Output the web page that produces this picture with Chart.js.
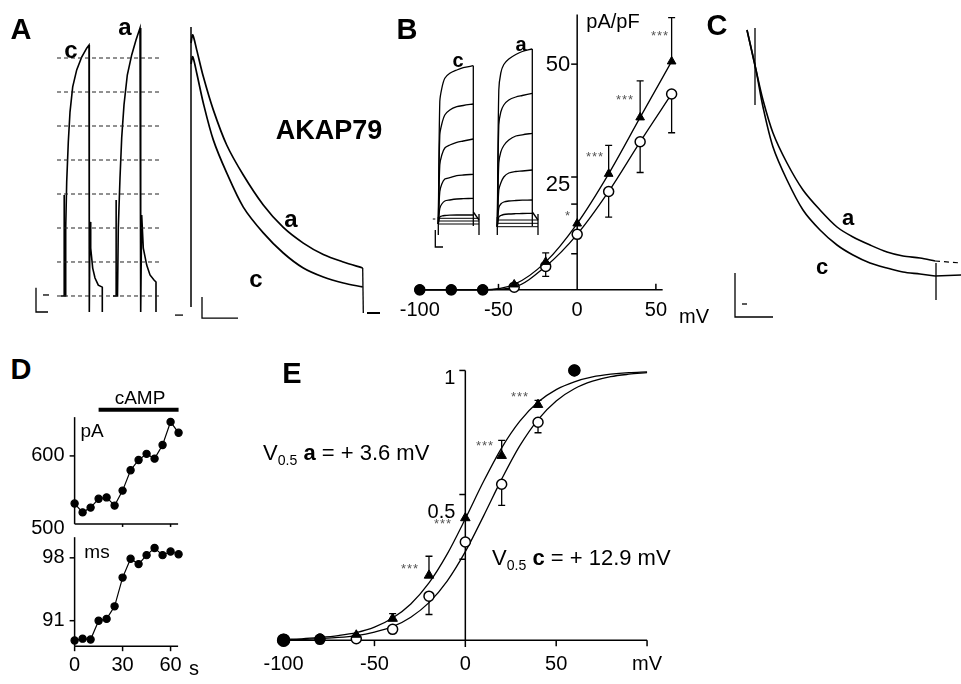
<!DOCTYPE html>
<html>
<head>
<meta charset="utf-8">
<script src="https://cdn.jsdelivr.net/npm/chart.js@4.4.1/dist/chart.umd.min.js"></script>
<style>
body { margin: 0; background: #fff; }
#fig { position: relative; width: 961px; height: 684px; overflow: hidden; background: #fff;
       font-family: "Liberation Sans", Arial, Helvetica, sans-serif; color: #000; }
#fig canvas { position: absolute; }
.t { position: absolute; transform: translate(-50%, -50%); white-space: nowrap; line-height: 1; }
.l { transform: translate(0, -50%); }
.b { font-weight: bold; }
.ast { color: #555; letter-spacing: 1px; }
sub { font-size: 64%; vertical-align: -5px; }
</style>
</head>
<body>
<div id="fig"></div>
<script>
// ---- A: current traces, c = control, a = AKAP79 (time ms, current in step units)
var aLevels = [0, 1, 2, 3, 4, 5, 6, 7];
var a1cT = [6, 9, 9, 9.4, 10.4, 10.7, 11.7, 13.3, 15, 17.7, 21.7, 26.7, 31.7, 34, 34.3, 35, 35.7, 37.7, 40, 43.3, 47.3, 47.3];
var a1cI = [0, 0, 2.97, 0, 0, 2.0, 3.35, 4.53, 5.41, 6.15, 6.65, 7.03, 7.29, 7.38, -0.47, 2.18, 1.41, 0.82, 0.53, 0.32, 0.26, -0.47];
var a1aT = [58, 61, 61, 61.3, 62.5, 63.3, 65, 66.7, 69, 72.3, 76.7, 81, 85, 85.7, 86.7, 88.3, 91.7, 95, 99, 101, 101];
var a1aI = [0, 0, 2.82, 0, 0, 2.0, 3.47, 4.65, 5.62, 6.5, 7.09, 7.53, 7.88, -0.47, 2.38, 1.41, 0.91, 0.62, 0.47, 0.41, -0.47];
var a2T = [1.7, 5.7, 12.3, 22.3, 35.7, 52.3, 72.3, 92.3, 112.3, 132.3, 152.3, 171.7];
var a2aI = [9.27, 8.77, 7.88, 6.77, 5.6, 4.6, 3.6, 2.85, 2.33, 1.95, 1.7, 1.5];
var a2cI = [8.54, 8.0, 7.0, 5.77, 4.67, 3.53, 2.67, 2.0, 1.5, 1.2, 1.0, 0.87];

// ---- B: current density (pA/pF) vs voltage
var bV = [-100, -80, -60, -40, -20, 0, 20, 40, 60];
var bA = [0, 0, 0, 1.2, 6.2, 14.7, 25.7, 38.2, 50.6];
var bC = [0, 0, 0, 0.6, 5.2, 12.3, 21.8, 32.8, 43.4];
var bErrA = [null, null, null, null, 8.2, null, 32, 46.3, 60.3];
var bErrC = [null, null, null, null, 3.0, null, 16.1, 26, 34.8];
// B inset: families of current steps
var insStep = [1.5, 3.5, 6.5, 11.5, 18.5, 25, 35];
var insC = [[12.23, 13.57, 14.57, 15.07, 15.4, 15.63, 15.83],
            [8.9, 10.0, 10.9, 11.4, 11.73, 11.85, 12.0],
            [5.9, 6.9, 7.6, 7.9, 8.17, 8.3, 8.5],
            [3.23, 4.0, 4.5, 4.63, 4.83, 4.9, 4.97],
            [1.57, 2.0, 2.3, 2.4, 2.5, 2.53, 2.57],
            [0.7, 0.8, 0.85, 0.88, 0.9, 0.9, 0.9]];
var insA = [[13.4, 15.1, 15.95, 16.5, 16.95, 17.25, 17.5],
            [9.9, 11.2, 11.9, 12.4, 12.7, 12.85, 13.07],
            [6.1, 7.2, 7.85, 8.4, 8.8, 8.92, 9.07],
            [3.4, 4.1, 4.7, 5.1, 5.25, 5.3, 5.4],
            [1.6, 2.0, 2.2, 2.3, 2.35, 2.38, 2.4],
            [0.7, 0.85, 0.95, 1.0, 1.03, 1.05, 1.07]];
var insBaseC = [0.57, 0.3, 0];
var insBaseA = [0.4, 0.07, -0.27];

// ---- C: normalised decays
var cT = [-9, 0, 7, 17, 31, 47, 64, 81, 97, 114, 131, 147, 164, 179];
var cA = [24.5, 20.5, 17.5, 14.2, 11.2, 8.5, 6.5, 4.8, 3.8, 3.0, 2.3, 1.9, 1.7, 1.4];
var cC = [24.5, 20.5, 16.8, 12.8, 9.5, 6.5, 4.5, 3.0, 2.0, 1.2, 0.7, 0.3, 0.1, -0.1];

// ---- D: time course with cAMP
var dT = [0, 5, 10, 15, 20, 25, 30, 35, 40, 45, 50, 55, 60, 65];
var dPA = [530, 517, 524, 537, 539, 527, 549, 579, 594, 603, 596, 616, 650, 634];
var dMs = [88.8, 89.0, 88.9, 91.0, 91.2, 92.6, 95.8, 97.9, 97.3, 98.3, 99.1, 98.3, 98.7, 98.4];
var campT = [15, 65];

// ---- E: activation curves
var eV = [-100, -80, -60, -40, -20, 0, 20, 40, 60];
var eA = [0, 0.005, 0.02, 0.08, 0.24, 0.453, 0.684, 0.873, 1.0];
var eC = [0, 0.003, 0.005, 0.04, 0.163, 0.364, 0.578, 0.808, 1.0];
var eErrA = [null, null, null, 0.098, 0.311, null, 0.741, 0.889, null];
var eErrC = [null, null, null, null, 0.095, null, 0.5, 0.769, null];
var fitV = [-100, -90, -80, -70, -60, -50, -40, -30, -20, -10, 0, 10, 20, 30, 40, 50, 60, 70, 80, 90, 100];
var fitA = [0.003, 0.005, 0.010, 0.017, 0.028, 0.048, 0.082, 0.134, 0.212, 0.319, 0.450, 0.588, 0.713, 0.812, 0.883, 0.929, 0.958, 0.976, 0.986, 0.992, 0.995];
var fitC = [0.002, 0.003, 0.006, 0.010, 0.017, 0.030, 0.050, 0.085, 0.139, 0.219, 0.328, 0.460, 0.597, 0.721, 0.818, 0.887, 0.932, 0.960, 0.977, 0.986, 0.992];

var fig = document.getElementById('fig');
var F = '"Liberation Sans", Arial, Helvetica, sans-serif';

function xy(xs, ys) {
  return xs.map(function (x, i) { return { x: x, y: ys[i] }; });
}

function line(xs, ys, opt) {
  return Object.assign({
    data: xy(xs, ys), showLine: true, borderColor: '#000', borderWidth: 1.5,
    pointRadius: 0, tension: 0, clip: false
  }, opt || {});
}

// axes, ticks, tick labels and error bars, all placed through the chart's scales
function axesPlugin(o) {
  return {
    id: 'figAxes',
    beforeDatasetsDraw: function (chart) {
      var ctx = chart.ctx, sx = chart.scales.x, sy = chart.scales.y;
      var px = function (v) { return sx.getPixelForValue(v); };
      var py = function (v) { return sy.getPixelForValue(v); };
      ctx.save();
      ctx.strokeStyle = '#000';
      ctx.lineWidth = 1.5;
      (o.lines || []).forEach(function (l) {
        ctx.beginPath();
        if (l.axis === 'x') { ctx.moveTo(px(l.from), py(l.at)); ctx.lineTo(px(l.to), py(l.at)); }
        else { ctx.moveTo(px(l.at), py(l.from)); ctx.lineTo(px(l.at), py(l.to)); }
        ctx.stroke();
      });
      (o.ticks || []).forEach(function (t) {
        t.values.forEach(function (v) {
          ctx.beginPath();
          if (t.axis === 'x') { ctx.moveTo(px(v), py(t.at)); ctx.lineTo(px(v), py(t.at) + t.len); }
          else { ctx.moveTo(px(t.at), py(v)); ctx.lineTo(px(t.at) + t.len, py(v)); }
          ctx.stroke();
        });
      });
      ctx.lineWidth = 1.3;
      (o.errors || []).forEach(function (e) {
        var d = chart.data.datasets[e.ds].data;
        e.ends.forEach(function (end, i) {
          if (end === null) return;
          var x = px(d[i].x), y0 = py(d[i].y), y1 = py(end);
          ctx.beginPath();
          ctx.moveTo(x, y0); ctx.lineTo(x, y1);
          ctx.moveTo(x - 3.5, y1); ctx.lineTo(x + 3.5, y1);
          ctx.stroke();
        });
      });
      ctx.restore();
    },
    afterDatasetsDraw: function (chart) {
      var ctx = chart.ctx, sx = chart.scales.x, sy = chart.scales.y;
      ctx.save();
      ctx.fillStyle = '#000';
      ctx.textBaseline = 'middle';
      (o.labels || []).forEach(function (t) {
        ctx.font = t.font;
        ctx.textAlign = t.align || 'center';
        t.values.forEach(function (v, i) {
          var dx = Array.isArray(t.dx) ? t.dx[i] : (t.dx || 0);
          var dy = Array.isArray(t.dy) ? t.dy[i] : (t.dy || 0);
          if (t.axis === 'x') ctx.fillText(t.text[i], sx.getPixelForValue(v) + dx, sy.getPixelForValue(t.at) + dy);
          else ctx.fillText(t.text[i], sx.getPixelForValue(t.at) + dx, sy.getPixelForValue(v) + dy);
        });
      });
      ctx.restore();
    }
  };
}

function panel(box, xr, yr, datasets, cfg) {
  var c = document.createElement('canvas');
  c.width = box[2]; c.height = box[3];
  c.style.left = box[0] + 'px'; c.style.top = box[1] + 'px';
  fig.appendChild(c);
  return new Chart(c, {
    type: 'scatter',
    data: { datasets: datasets },
    options: {
      responsive: false, animation: false, events: [],
      layout: { padding: 0 },
      scales: {
        x: { type: 'linear', display: false, min: xr[0], max: xr[1] },
        y: { type: 'linear', display: false, min: yr[0], max: yr[1] }
      },
      plugins: { legend: { display: false }, tooltip: { enabled: false } }
    },
    plugins: [axesPlugin(cfg || {})]
  });
}

// ---------- panel A, left: spikes with dotted reference levels
var a1 = aLevels.map(function (lv) {
  return line([2, 105], [lv, lv], { borderWidth: 1, borderDash: [4, 3], borderColor: '#222' });
});
a1.push(line(a1cT, a1cI, { borderWidth: 1.6 }));
a1.push(line(a1aT, a1aI, { borderWidth: 1.6 }));
a1.push(line([-19, -19, -7], [0.24, -0.47, -0.47], { borderWidth: 1.3 }));
a1.push(line([-12, -6], [0.03, 0.03], { borderWidth: 1.3 }));
panel([30, 15, 135, 305], [-25, 110], [-0.706, 8.265], a1);

// ---------- panel A, right: decays
var a2 = [
  line([0, 0], [9.53, 0.2], { borderWidth: 1.5 }),
  line([0].concat(a2T), [9.0].concat(a2aI), { tension: 0.3, borderWidth: 1.7 }),
  line([0].concat(a2T), [8.3].concat(a2cI), { tension: 0.3, borderWidth: 1.7 }),
  line([171.7, 172.3], [1.5, 0], { borderWidth: 1.3 }),
  line([176, 189], [0, 0], { borderWidth: 2 }),
  line([-16, -8], [-0.07, -0.07], { borderWidth: 1.3 }),
  line([11, 11, 47], [0.53, -0.17, -0.17], { borderWidth: 1.3 })
];
panel([165, 15, 225, 315], [-26, 199], [-0.567, 9.933], a2);

// ---------- panel B, inset traces
var ins = [];
[[0, insC, insBaseC], [59, insA, insBaseA]].forEach(function (f) {
  var on = f[0], fam = f[1], bases = f[2], low = bases[bases.length - 1];
  fam.forEach(function (vals) {
    ins.push(line([on].concat(insStep.map(function (s) { return on + s; })), [low].concat(vals), { borderWidth: 1.3, tension: 0.3 }));
  });
  bases.forEach(function (b) {
    ins.push(line([on, on + 40.7], [b, b], { borderWidth: 1 }));
  });
  ins.push(line([on, on], [-1.1, fam[5][0]], { borderWidth: 1.3 }));
  ins.push(line([on + 35, on + 35], [fam[0][6], -0.2], { borderWidth: 1.3 }));
  ins.push(line([on + 35, on + 40.7], [1.2, 0.4], { borderWidth: 1.3 }));
  ins.push(line([on + 40.7, on + 40.7], [1.0, -1.1], { borderWidth: 1.3 }));
});
ins.push(line([-5.5, -3], [0.5, 0.5], { borderWidth: 1 }));
ins.push(line([-3, -3, 4.7], [-0.6, -2.3, -2.3], { borderWidth: 1.3 }));
panel([420, 35, 125, 220], [-18.3, 106.7], [-3.1, 18.9], ins);

// ---------- panel B, I-V
var bShapeA = ['circle', 'circle', 'circle', 'triangle', 'triangle', 'triangle', 'triangle', 'triangle', 'triangle'];
var bFillC = ['#000', '#000', '#000', '#fff', '#fff', '#fff', '#fff', '#fff', '#fff'];
panel([395, 0, 325, 330], [-111.6, 86.6], [-7.45, 62.77], [
  line(bV, bA, { cubicInterpolationMode: 'monotone', borderWidth: 1.3, pointStyle: bShapeA, pointRadius: 5,
                 pointBackgroundColor: '#000', pointBorderColor: '#000', pointBorderWidth: 1 }),
  line(bV, bC, { cubicInterpolationMode: 'monotone', borderWidth: 1.3, pointStyle: 'circle', pointRadius: 5,
                 pointBackgroundColor: bFillC, pointBorderColor: '#000', pointBorderWidth: 1.5 })
], {
  lines: [{ axis: 'x', at: 0, from: -101, to: 54.3 }, { axis: 'y', at: 0, from: 0, to: 61 }],
  ticks: [{ axis: 'x', at: 0, values: [-50, 50], len: -6 }, { axis: 'y', at: 0, values: [8, 19, 25, 50], len: -6 }],
  errors: [{ ds: 0, ends: bErrA }, { ds: 1, ends: bErrC }],
  labels: [
    { axis: 'x', at: 0, values: [-100, -50, 0, 50], text: ['-100', '-50', '0', '50'], dy: 21, font: '20px ' + F },
    { axis: 'y', at: 0, values: [25, 50], text: ['25', '50'], dx: -7, dy: [8, 1], align: 'right', font: '22px ' + F }
  ]
});

// ---------- panel C
panel([722, 10, 239, 320], [-34, 205], [-5.5, 26.5], [
  line([-1, -1], [24.7, 17], { borderWidth: 1.3 }),
  line(cT, cA, { tension: 0.3, borderWidth: 1.6 }),
  line(cT, cC, { tension: 0.3, borderWidth: 1.6 }),
  line([179, 205], [1.4, 1.2], { borderWidth: 1.2, borderDash: [5, 4] }),
  line([179, 205], [-0.1, 0], { borderWidth: 1.3 }),
  line([180, 180], [1.2, -2.5], { borderWidth: 1.3 }),
  line([-21, -21, 17], [0.2, -4.2, -4.2], { borderWidth: 1.3 }),
  line([-14, -9], [-2.9, -2.9], { borderWidth: 1.3 })
]);

// ---------- panel D
var dot = { borderWidth: 1.2, pointRadius: 3.6, pointStyle: 'circle', pointBackgroundColor: '#000', pointBorderColor: '#000' };
panel([0, 392, 210, 153], [-43.4, 81.4], [476.7, 686.3], [
  line(dT, dPA, dot),
  line(campT, [668, 668], { borderWidth: 4 })
], {
  lines: [{ axis: 'x', at: 500, from: 0, to: 64.7 }, { axis: 'y', at: 0, from: 500, to: 657 }],
  ticks: [{ axis: 'x', at: 500, values: [30, 60], len: 3 }, { axis: 'y', at: 0, values: [600], len: -5 }],
  labels: [{ axis: 'y', at: 0, values: [600, 500], text: ['600', '500'], dx: -10, dy: [0, 5], align: 'right', font: '20px ' + F }]
});
panel([0, 530, 210, 154], [-43.4, 81.4], [84.53, 100.52], [
  line(dT, dMs, dot)
], {
  lines: [{ axis: 'x', at: 88.16, from: 0, to: 64.7 }, { axis: 'y', at: 0, from: 88.16, to: 100.3 }],
  ticks: [{ axis: 'x', at: 88.16, values: [0, 30, 60], len: 5 }, { axis: 'y', at: 0, values: [91, 98], len: -5 }],
  labels: [
    { axis: 'y', at: 0, values: [98, 91], text: ['98', '91'], dx: -10, align: 'right', font: '20px ' + F },
    { axis: 'x', at: 88.16, values: [0, 30, 60], text: ['0', '30', '60'], dy: 19, font: '20px ' + F }
  ]
});

// ---------- panel E
var eShapeA = ['circle', 'circle', 'triangle', 'triangle', 'triangle', 'triangle', 'triangle', 'triangle', 'circle'];
var eFillC = ['#000', '#333', '#fff', '#fff', '#fff', '#fff', '#fff', '#fff', '#000'];
panel([250, 340, 450, 344], [-114.36, 125], [-0.1348, 1.0851], [
  line(eV, eA, { showLine: false, pointStyle: eShapeA, pointRadius: [6, 5, 5, 5.5, 5.5, 5.5, 5.5, 5.5, 5.5],
                 pointBackgroundColor: '#000', pointBorderColor: '#000', pointBorderWidth: 1 }),
  line(eV, eC, { showLine: false, pointStyle: 'circle', pointRadius: [6, 5, 5, 5, 5, 5, 5, 5, 5.5],
                 pointBackgroundColor: eFillC, pointBorderColor: '#000', pointBorderWidth: 1.5 }),
  line(fitV, fitA, { cubicInterpolationMode: 'monotone', borderWidth: 1.3 }),
  line(fitV, fitC, { cubicInterpolationMode: 'monotone', borderWidth: 1.3 })
], {
  lines: [{ axis: 'x', at: 0, from: -100, to: 100 }, { axis: 'y', at: 0, from: -0.025, to: 1.0 }],
  ticks: [{ axis: 'x', at: 0, values: [-50, 50, 100], len: 6 }, { axis: 'y', at: 0, values: [0.3, 0.54, 1], len: -6 }],
  errors: [{ ds: 0, ends: eErrA }, { ds: 1, ends: eErrC }],
  labels: [
    { axis: 'x', at: 0, values: [-100, -50, 0, 50, 100], text: ['-100', '-50', '0', '50', 'mV'], dy: 24, font: '20px ' + F },
    { axis: 'y', at: 0, values: [1, 0.5], text: ['1', '0.5'], dx: -10, dy: [8, 7], align: 'right', font: '20px ' + F }
  ]
});

// ---------- free text
var notes = [
  ['A', 21, 29, 't b', 29], ['c', 71, 50, 't b', 24], ['a', 125, 27, 't b', 24],
  ['AKAP79', 329, 130, 't b', 27], ['a', 291, 219, 't b', 24], ['c', 256, 279, 't b', 24],
  ['B', 407, 29, 't b', 29], ['c', 458, 60, 't b', 20], ['a', 521, 44, 't b', 20],
  ['pA/pF', 613, 21, 't', 20], ['***', 660, 35, 't ast', 13], ['***', 625, 99, 't ast', 13],
  ['***', 595, 156, 't ast', 13], ['*', 568, 215, 't ast', 13], ['mV', 694, 316, 't', 20],
  ['C', 717, 25, 't b', 29], ['a', 848, 218, 't b', 22], ['c', 822, 267, 't b', 22],
  ['D', 21, 369, 't b', 29], ['cAMP', 140, 397, 't', 19], ['pA', 92, 430, 't', 19],
  ['ms', 97, 551, 't', 19], ['s', 194, 668, 't', 20],
  ['E', 292, 373, 't b', 29],
  ['V<sub>0.5</sub> <b>a</b> = + 3.6 mV', 263, 455, 't l', 22],
  ['V<sub>0.5</sub> <b>c</b> = + 12.9 mV', 492, 560, 't l', 22],
  ['***', 410, 568, 't ast', 13], ['***', 443, 523, 't ast', 13],
  ['***', 485, 445, 't ast', 13], ['***', 520, 396, 't ast', 13]
];
notes.forEach(function (n) {
  var d = document.createElement('div');
  d.className = n[3];
  d.innerHTML = n[0];
  d.style.left = n[1] + 'px';
  d.style.top = n[2] + 'px';
  d.style.fontSize = n[4] + 'px';
  fig.appendChild(d);
});
</script>
</body>
</html>
